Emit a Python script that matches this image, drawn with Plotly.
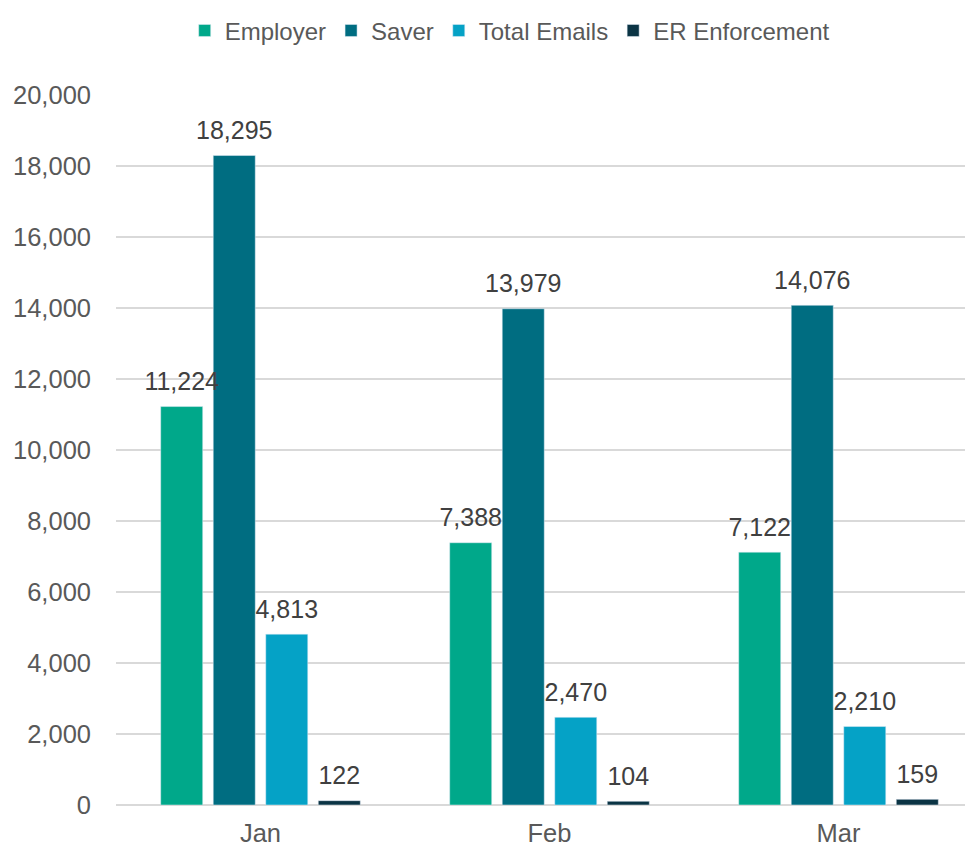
import plotly.graph_objects as go

months = ["Jan", "Feb", "Mar"]
series_names = ["Employer", "Saver", "Total Emails", "ER Enforcement"]
employer = [11224, 7388, 7122]
saver = [18295, 13979, 14076]
total_emails = [4813, 2470, 2210]
er_enforcement = [122, 104, 159]
colors = ["#00A88A", "#006D81", "#05A2C6", "#0B3444"]

BARGAP = 0.273
fig = go.Figure()
all_vals = [employer, saver, total_emails, er_enforcement]
for i, (name, vals, col) in enumerate(zip(series_names, all_vals, colors)):
    fig.add_trace(go.Bar(
        x=months, y=vals, name=name, marker_color=col,
        offsetgroup=str(i), legendgroup=name,
    ))
for i, (name, vals, col) in enumerate(zip(series_names, all_vals, colors)):
    fig.add_trace(go.Scatter(
        x=months, y=vals, mode="markers+text", offsetgroup=str(i),
        legendgroup=name, showlegend=False, hoverinfo="skip",
        marker=dict(size=15, opacity=0, color=col),
        text=[f"{v:,}" for v in vals], textposition="top center",
        textfont=dict(size=25, color="#404040", family="Liberation Sans, Arial"),
        cliponaxis=False,
    ))

fig.update_layout(
    width=965, height=842,
    margin=dict(l=108, r=3, t=87, b=45, autoexpand=False),
    plot_bgcolor="white", paper_bgcolor="white",
    barmode="group", bargap=BARGAP, bargroupgap=0.2,
    scattermode="group", scattergap=BARGAP,
    font=dict(family="Liberation Sans, Arial", size=25, color="#595959"),
    legend=dict(orientation="h", x=0.461, xref="paper", xanchor="center",
                y=1.122, yref="paper", yanchor="top",
                font=dict(size=24, color="#595959", family="Liberation Sans, Arial"),
                itemwidth=30, tracegroupgap=0, borderwidth=0),
    showlegend=True,
)
fig.update_xaxes(range=[-0.5, 2.455], showgrid=False, showline=False, ticks="",
                 ticklabelstandoff=10,
                 tickfont=dict(size=25.5, color="#595959"))
fig.update_yaxes(range=[0, 20000], dtick=2000, tickformat=",", showgrid=True,
                 gridcolor="#D9D9D9", gridwidth=1.5, zeroline=True, zerolinecolor="#D9D9D9",
                 zerolinewidth=2, showline=False, ticks="", ticklabelstandoff=24,
                 tickfont=dict(size=25.5, color="#595959"))

fig.write_html("out.html")
